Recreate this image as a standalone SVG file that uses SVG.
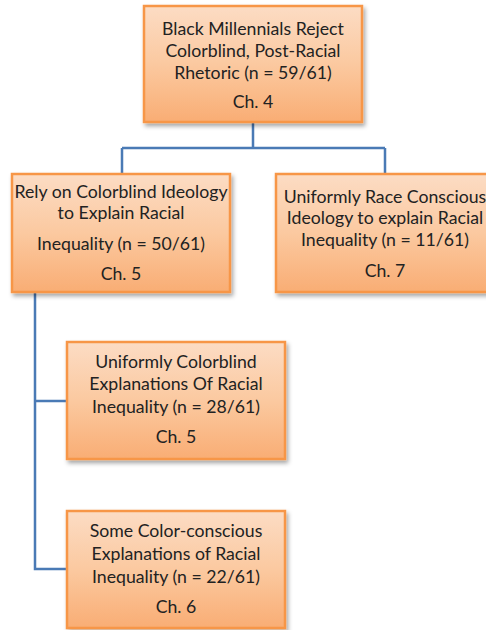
<svg xmlns="http://www.w3.org/2000/svg" width="486" height="630" viewBox="0 0 486 630">
<defs>
<linearGradient id="g" x1="0" y1="0" x2="0" y2="1">
<stop offset="0" stop-color="#fcdcc4"/>
<stop offset="0.5" stop-color="#fbc9a0"/>
<stop offset="1" stop-color="#f9ad74"/>
</linearGradient>
<filter id="sh" x="-10%" y="-10%" width="130%" height="130%">
<feDropShadow dx="2" dy="3" stdDeviation="2" flood-color="#000" flood-opacity="0.35"/>
</filter>
</defs>
<style>
.box{fill:url(#g);stroke:#f79646;stroke-width:2.5;filter:url(#sh)}
.t{font-family:Lato,"Liberation Sans",sans-serif;font-size:17.7px;fill:#222;text-anchor:middle}
.c{fill:none;stroke:#4a7ab5;stroke-width:2.5}
</style>
<rect width="486" height="630" fill="#fff"/>
<g id="connectors">
<path class="c" d="M253 122 V148 M122 148 H385 M122 148 V174 M385 148 V174"/>
<path class="c" d="M35 292 V569 H67 M35 401 H67"/>
</g>
<g id="n1">
<rect class="box" x="144" y="6" width="218" height="116"/>
<text class="t" x="253" y="35">Black Millennials Reject</text>
<text class="t" x="253" y="57">Colorblind, Post-Racial</text>
<text class="t" x="253" y="79">Rhetoric (n = 59/61)</text>
<text class="t" x="253" y="108">Ch. 4</text>
</g>
<g id="n2">
<rect class="box" x="12" y="174" width="218" height="118"/>
<text class="t" x="121" y="198">Rely on Colorblind Ideology</text>
<text class="t" x="121" y="219">to Explain Racial</text>
<text class="t" x="121" y="250">Inequality (n = 50/61)</text>
<text class="t" x="121" y="280">Ch. 5</text>
</g>
<g id="n3">
<rect class="box" x="276" y="174" width="218" height="118"/>
<text class="t" x="385" y="203">Uniformly Race Conscious</text>
<text class="t" x="385" y="224">Ideology to explain Racial</text>
<text class="t" x="385" y="246">Inequality (n = 11/61)</text>
<text class="t" x="385" y="277">Ch. 7</text>
</g>
<g id="n4">
<rect class="box" x="67" y="342" width="218" height="117"/>
<text class="t" x="176" y="368">Uniformly Colorblind</text>
<text class="t" x="176" y="390">Explanations Of Racial</text>
<text class="t" x="176" y="413">Inequality (n = 28/61)</text>
<text class="t" x="176" y="443">Ch. 5</text>
</g>
<g id="n5">
<rect class="box" x="67" y="511" width="218" height="117"/>
<text class="t" x="176" y="537">Some Color-conscious</text>
<text class="t" x="176" y="560">Explanations of Racial</text>
<text class="t" x="176" y="583">Inequality (n = 22/61)</text>
<text class="t" x="176" y="613">Ch. 6</text>
</g>
</svg>
